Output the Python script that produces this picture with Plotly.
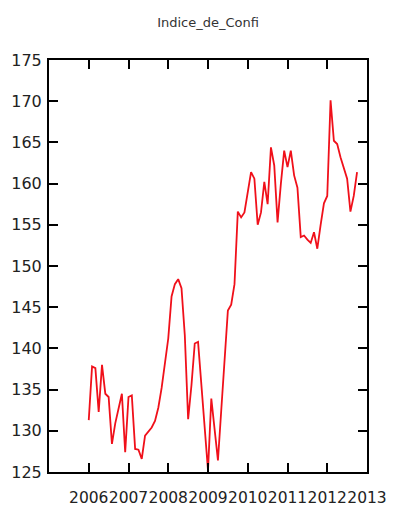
import plotly.graph_objects as go

title_text = "Indice_de_Confi"
start_year = 2006
values = [
    131.3, 137.8, 137.6, 132.3, 138.0, 134.5, 134.1, 128.4, 130.9, 132.8, 134.5, 127.4,
    134.1, 134.3, 127.8, 127.7, 126.6, 129.4, 129.9, 130.4, 131.2, 132.8, 135.2, 138.2,
    141.2, 146.3, 147.8, 148.4, 147.3, 141.6, 131.4, 135.5, 140.6, 140.8, 135.5, 130.3,
    125.2, 133.9, 130.2, 126.4, 132.5, 139.0, 144.6, 145.3, 147.8, 156.6, 155.9, 156.5,
    159.0, 161.4, 160.6, 155.0, 156.5, 160.2, 157.5, 164.4, 162.2, 155.3, 160.0, 164.0,
    162.0, 164.0, 161.0, 159.5, 153.5, 153.7, 153.2, 152.8, 154.1, 152.1, 155.0, 157.6,
    158.5, 170.1, 165.2, 164.8, 163.2, 162.0, 160.6, 156.6, 158.5, 161.4,
]
x_tickvals = [2006, 2007, 2008, 2009, 2010, 2011, 2012, 2013]
x_ticktext = ["2006", "2007", "2008", "2009", "2010", "2011", "2012", "2013"]
y_tickvals = [125, 130, 135, 140, 145, 150, 155, 160, 165, 170, 175]

x = [start_year + i / 12 for i in range(len(values))]

fig = go.Figure()
fig.add_trace(go.Scatter(x=x, y=values, mode="lines",
                         line=dict(color="#f0101a", width=1.8),
                         showlegend=False, hoverinfo="skip"))

fig.update_layout(
    width=387, height=506,
    margin=dict(l=41, r=28, t=52, b=42, autoexpand=False),
    paper_bgcolor="white", plot_bgcolor="white",
    font=dict(family="DejaVu Sans", color="#222222"),
    title=dict(text=title_text, x=0.517, xanchor="center", y=0.972, yanchor="middle",
               font=dict(size=13, color="#333333")),
)
axis_common = dict(showgrid=False, zeroline=False, showline=True, linecolor="black",
                   linewidth=2, ticks="inside", ticklen=9, tickwidth=2,
                   tickcolor="black", mirror="ticks", automargin=False)
fig.update_xaxes(range=[2005, 2013], tickvals=x_tickvals, ticktext=x_ticktext,
                 tickangle=0,
                 tickfont=dict(size=15.5, color="#222222"), ticklabelstandoff=10,
                 **axis_common)
fig.update_yaxes(range=[125, 175], tickvals=y_tickvals,
                 tickfont=dict(size=16, color="#222222"), ticklabelstandoff=2,
                 **axis_common)

fig.write_html("out.html")
